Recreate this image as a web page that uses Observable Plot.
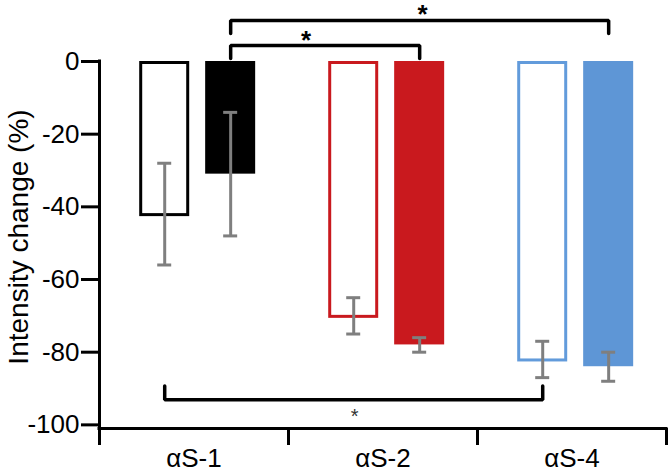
<!DOCTYPE html>
<html>
<head>
<meta charset="utf-8">
<script src="https://cdn.jsdelivr.net/npm/d3@7"></script>
<script src="https://cdn.jsdelivr.net/npm/@observablehq/plot@0.6"></script>
<style>
  html, body { margin: 0; padding: 0; background: #fff; }
  #chart { width: 668px; height: 475px; }
</style>
</head>
<body>
<div id="chart"></div>
<script>
// ---- data ----
const categories = ["αS-1", "αS-2", "αS-4"];
const seriesNames = ["open", "filled"];
const openMeans = [-42, -70, -82];
const openErrors = [14, 5, 5];
const filledMeans = [-31, -78, -84];
const filledErrors = [17, 2, 4];
const yTicks = [0, -20, -40, -60, -80, -100];
const groupBoundaries = [0, 1, 2, 3];
const yLabel = "Intensity change (%)";
// significance comparisons: [fromCategory, fromSeries, toCategory, toSeries, label]
const comparisons = [
  ["αS-1", "filled", "αS-4", "filled", "*"],
  ["αS-1", "filled", "αS-2", "filled", "*"],
  ["αS-1", "open", "αS-4", "open", "*"]
];

// ---- styling / layout ----
const colors = {"αS-1": "#000000", "αS-2": "#c9191e", "αS-4": "#5e96d6"};
const openStroke = {"αS-1": "#000000", "αS-2": "#c9191e", "αS-4": "#629bdb"};
const seriesOffset = {open: 0.345, filled: 0.694};
const bracketStyle = [
  {level: 11.3, drop: 7.7, dx: 3, dy: 3, size: 26, fill: "#000", weight: "bold"},
  {level: 4.4, drop: 0.8, dx: -19, dy: 3, size: 26, fill: "#000", weight: "bold"},
  {level: -93.1, drop: -89.3, dx: 1, dy: 23, size: 20, fill: "#333", weight: "normal"}
];

const rows = categories.flatMap((c, i) => [
  {cat: c, i, series: "open", mean: openMeans[i], err: openErrors[i]},
  {cat: c, i, series: "filled", mean: filledMeans[i], err: filledErrors[i]}
]);
const center = (c, s) => categories.indexOf(c) + seriesOffset[s];
rows.forEach(r => r.cx = center(r.cat, r.series));
const openRows = rows.filter(r => r.series === "open");
const filledRows = rows.filter(r => r.series === "filled");

const bracketPts = comparisons.flatMap(([c1, s1, c2, s2], k) => {
  const st = bracketStyle[k];
  const x1 = center(c1, s1), x2 = center(c2, s2);
  return [
    {k, x: x1, y: st.drop}, {k, x: x1, y: st.level},
    {k, x: x2, y: st.level}, {k, x: x2, y: st.drop}
  ];
});
const starMarks = comparisons.map(([c1, s1, c2, s2, lab], k) => {
  const st = bracketStyle[k];
  return Plot.text([{x: (center(c1, s1) + center(c2, s2)) / 2, y: st.level, lab}], {
    x: "x", y: "y", text: "lab", lineAnchor: "bottom", textAnchor: "middle",
    dx: st.dx, dy: st.dy, fontSize: st.size, fill: st.fill, fontWeight: st.weight
  });
});

const plot = Plot.plot({
  width: 668,
  height: 475,
  marginLeft: 99,
  marginRight: 2,
  marginTop: 61,
  marginBottom: 47,
  style: {fontFamily: "'Liberation Sans', Arial, sans-serif", fontSize: "26px", color: "#000", background: "#fff", overflow: "visible"},
  x: {domain: [0, 3], axis: null},
  y: {domain: [-101, 0], axis: null},
  marks: [
    // filled bars
    Plot.rectY(filledRows, {x1: "cx", x2: "cx", y1: 0, y2: "mean", insetLeft: -25, insetRight: -25,
      fill: d => colors[d.cat]}),
    // open bars
    Plot.rectY(openRows, {x1: "cx", x2: "cx", y1: 0, y2: "mean", insetLeft: -23.5, insetRight: -23.5,
      insetTop: 1.5, insetBottom: -1, fill: "#fff", stroke: d => openStroke[d.cat], strokeWidth: 3}),
    // error bars
    Plot.ruleX(rows, {x: "cx", y1: d => d.mean - d.err, y2: d => d.mean + d.err, stroke: "#7f7f7f", strokeWidth: 3}),
    Plot.ruleY(rows, {x1: "cx", x2: "cx", y: d => d.mean + d.err, insetLeft: -7, insetRight: -7, stroke: "#7f7f7f", strokeWidth: 3}),
    Plot.ruleY(rows, {x1: "cx", x2: "cx", y: d => d.mean - d.err, insetLeft: -7, insetRight: -7, stroke: "#7f7f7f", strokeWidth: 3}),
    // significance brackets
    Plot.line(bracketPts, {x: "x", y: "y", z: "k", stroke: "#000", strokeWidth: 3.5, strokeLinejoin: "miter", curve: "linear"}),
    ...starMarks,
    // axes
    Plot.ruleX([0], {y1: -101, y2: 0, stroke: "#000", strokeWidth: 3, strokeLinecap: "square"}),
    Plot.ruleY([-101], {x1: 0, x2: 3, stroke: "#000", strokeWidth: 3, strokeLinecap: "square"}),
    Plot.axisY(yTicks, {tickSize: 18, tickPadding: 2, strokeWidth: 3, fontSize: 26, tickFormat: d => String(d), label: null}),
    Plot.axisX(groupBoundaries, {tickSize: 17, strokeWidth: 3, tickFormat: () => "", label: null}),
    Plot.axisX(groupBoundaries.slice(0, -1).map(b => b + 0.5), {tickSize: 0, tickPadding: 20, fontSize: 26,
      tickFormat: d => categories[Math.floor(d)], label: null}),
    Plot.text([yLabel], {frameAnchor: "left", textAnchor: "middle", lineAnchor: "middle", rotate: -90,
      dx: -80, dy: -8, fontSize: 28, fill: "#000"})
  ]
});
document.getElementById("chart").appendChild(plot);
</script>
</body>
</html>
